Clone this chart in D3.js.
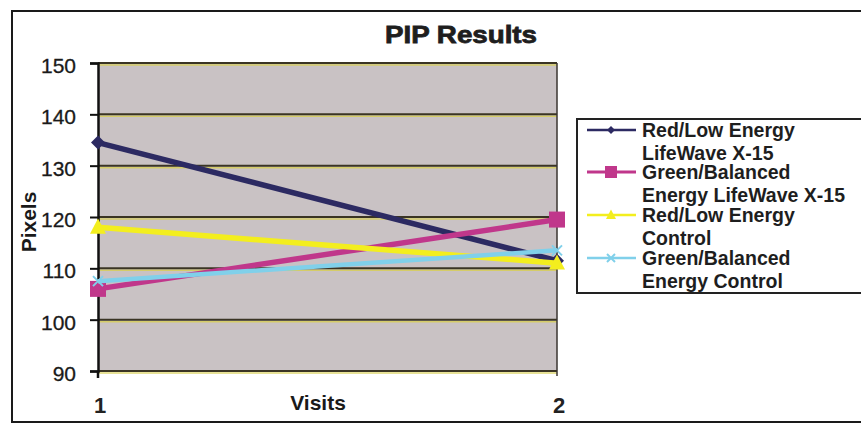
<!DOCTYPE html>
<html>
<head>
<meta charset="utf-8">
<script src="https://cdn.jsdelivr.net/npm/d3@7"></script>
<style>
  html, body { margin: 0; padding: 0; background: #fff; }
  svg { display: block; font-family: "Liberation Sans", Arial, sans-serif; }
</style>
</head>
<body>
<svg id="chart" width="861" height="425"></svg>
<script>
// PIP results: pixel measurements at two visits for four groups
const visits = [1, 2];
const yTicks = [90, 100, 110, 120, 130, 140, 150];
const seriesNames = [
  ["Red/Low Energy", "LifeWave X-15"],
  ["Green/Balanced", "Energy LifeWave X-15"],
  ["Red/Low Energy", "Control"],
  ["Green/Balanced", "Energy Control"]
];
const redLowLifeWave = [134.5, 111.5];
const greenBalancedLifeWave = [106, 119.5];
const redLowControl = [118, 111];
const greenBalancedControl = [107.5, 113.5];

const seriesValues = [redLowLifeWave, greenBalancedLifeWave, redLowControl, greenBalancedControl];
const colors = ["#2c2a62", "#c0378b", "#f3ee1e", "#80d0ea"];
const markers = ["diamond", "square", "triangle", "cross"];

const svg = d3.select("#chart");

// outer chart frame
svg.append("rect")
  .attr("x", 12).attr("y", 11).attr("width", 870).attr("height", 411)
  .attr("fill", "#fff").attr("stroke", "#1a1a1a").attr("stroke-width", 2);

const plot = { left: 98, right: 557, top: 63, bottom: 371 };
const x = d3.scalePoint().domain(visits).range([plot.left, plot.right]);
const y = d3.scaleLinear().domain([90, 150]).range([plot.bottom, plot.top]);

// plot area background
svg.append("rect")
  .attr("x", plot.left).attr("y", plot.top)
  .attr("width", plot.right - plot.left).attr("height", plot.bottom - plot.top)
  .attr("fill", "#c9c2c4");

// horizontal gridlines with a faint yellow edge
const grid = svg.append("g");
grid.selectAll("line.hl").data(yTicks).join("line")
  .attr("class", "hl")
  .attr("x1", plot.left).attr("x2", plot.right)
  .attr("y1", d => y(d) + 2).attr("y2", d => y(d) + 2)
  .attr("stroke", "#d9cf52").attr("stroke-width", 1.5).attr("opacity", 0.8);
grid.selectAll("line.gl").data(yTicks).join("line")
  .attr("class", "gl")
  .attr("x1", plot.left).attr("x2", plot.right)
  .attr("y1", d => y(d)).attr("y2", d => y(d))
  .attr("stroke", "#3a3424").attr("stroke-width", 2);

// right edge of plot area
svg.append("line")
  .attr("x1", plot.right).attr("x2", plot.right)
  .attr("y1", plot.top).attr("y2", plot.bottom + 5)
  .attr("stroke", "#3a3430").attr("stroke-width", 1.5);

// y axis
const yAxis = svg.append("g")
  .attr("transform", `translate(${plot.left},0)`)
  .call(d3.axisLeft(y).tickValues(yTicks).tickSize(8).tickPadding(14));
yAxis.select(".domain").attr("stroke", "#111").attr("stroke-width", 2.5);
yAxis.selectAll(".tick line").attr("stroke", "#111").attr("stroke-width", 2);
yAxis.selectAll(".tick text")
  .attr("font-size", 21).attr("fill", "#1a1a1a")
  .attr("font-family", "Liberation Sans, Arial, sans-serif")
  .attr("stroke", "#1a1a1a").attr("stroke-width", 0.3)
  .attr("dy", "0.45em");
svg.append("line")
  .attr("x1", plot.left).attr("x2", plot.left)
  .attr("y1", plot.bottom).attr("y2", plot.bottom + 7)
  .attr("stroke", "#111").attr("stroke-width", 2.5);

// x axis tick labels
svg.append("g").selectAll("text").data(visits).join("text")
  .attr("x", d => x(d) + 2).attr("y", 413)
  .attr("text-anchor", "middle")
  .attr("font-size", 22).attr("font-weight", "bold").attr("fill", "#222")
  .text(d => d);

// axis titles and chart title
svg.append("text")
  .attr("x", 318).attr("y", 410).attr("text-anchor", "middle")
  .attr("font-size", 21).attr("font-weight", "bold").attr("fill", "#1a1a1a")
  .text("Visits");
svg.append("text")
  .attr("transform", "translate(36,222) rotate(-90)")
  .attr("text-anchor", "middle")
  .attr("font-size", 21).attr("font-weight", "bold").attr("fill", "#1a1a1a")
  .text("Pixels");
svg.append("text")
  .attr("x", 461).attr("y", 43).attr("text-anchor", "middle")
  .attr("font-size", 24).attr("font-weight", "bold").attr("fill", "#1e1e1e")
  .attr("stroke", "#1e1e1e").attr("stroke-width", 0.8)
  .attr("textLength", 152).attr("lengthAdjust", "spacingAndGlyphs")
  .text("PIP Results");

// marker shapes
function drawMarker(g, type, color, size) {
  const s = size;
  if (type === "diamond") {
    g.append("path").attr("d", `M0,${-s}L${s},0L0,${s}L${-s},0Z`).attr("fill", color);
  } else if (type === "square") {
    g.append("rect").attr("x", -s).attr("y", -s).attr("width", 2 * s).attr("height", 2 * s).attr("fill", color);
  } else if (type === "triangle") {
    g.append("path").attr("d", `M0,${-s * 1.1}L${s},${s * 0.8}L${-s},${s * 0.8}Z`).attr("fill", color);
  } else {
    g.append("path").attr("d", `M${-s},${-s}L${s},${s}M${-s},${s}L${s},${-s}`)
      .attr("stroke", color).attr("stroke-width", 2).attr("fill", "none");
  }
}

// series lines and markers
const line = d3.line().x((d, i) => x(visits[i])).y(d => y(d));
const markerSizes = [7, 8, 8, 5];
seriesValues.forEach((vals, si) => {
  const g = svg.append("g");
  g.append("path").datum(vals)
    .attr("d", line)
    .attr("fill", "none").attr("stroke", colors[si])
    .attr("stroke-width", si === 3 ? 4.5 : 5.5);
  vals.forEach((v, i) => {
    const mg = g.append("g").attr("transform", `translate(${x(visits[i])},${y(v)})`);
    drawMarker(mg, markers[si], colors[si], markerSizes[si]);
  });
});

// legend
const legend = svg.append("g");
legend.append("rect")
  .attr("x", 577).attr("y", 119).attr("width", 300).attr("height", 174)
  .attr("fill", "#fff").attr("stroke", "#222").attr("stroke-width", 2);
const legendY = [130, 172, 215, 258];
seriesNames.forEach((lines, si) => {
  const ly = legendY[si];
  legend.append("line")
    .attr("x1", 587).attr("x2", 636).attr("y1", ly).attr("y2", ly)
    .attr("stroke", colors[si]).attr("stroke-width", si === 1 ? 3 : 2.5);
  const mg = legend.append("g").attr("transform", `translate(611,${ly})`);
  drawMarker(mg, markers[si], colors[si], [4, 6, 5, 4][si]);
  lines.forEach((t, li) => {
    legend.append("text")
      .attr("x", 642).attr("y", ly + 7 + li * 23)
      .attr("font-size", 19.5).attr("font-weight", "bold").attr("fill", "#1e1e1e")
      .text(t);
  });
});
</script>
</body>
</html>
